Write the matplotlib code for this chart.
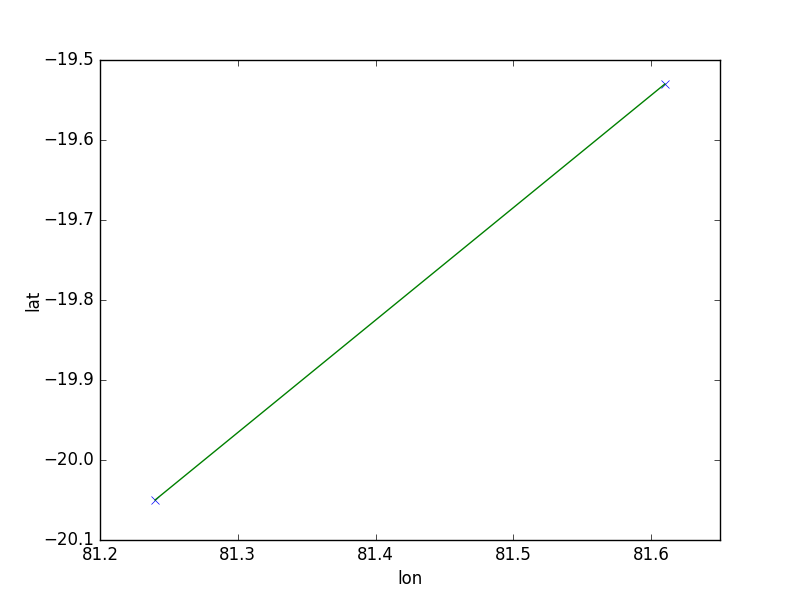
import matplotlib
matplotlib.use("Agg")
import matplotlib.pyplot as plt

lon = [81.24, 81.61]
lat = [-20.05, -19.53]

plt.style.use("classic")
plt.rcParams["figure.facecolor"] = "white"
plt.rcParams["savefig.facecolor"] = "white"
plt.rcParams["axes.formatter.useoffset"] = False

fig = plt.figure(figsize=(8, 6), dpi=100)
ax = fig.add_subplot(111)

ax.plot(lon, lat, "bx", markersize=6)
ax.plot(lon, lat, "g-")

ax.set_xlim(81.2, 81.65)
ax.set_ylim(-20.1, -19.5)
ax.set_xticks([81.2, 81.3, 81.4, 81.5, 81.6])
ax.set_xlabel("lon")
ax.set_ylabel("lat", labelpad=1)

fig.savefig("out.png", dpi=100)
